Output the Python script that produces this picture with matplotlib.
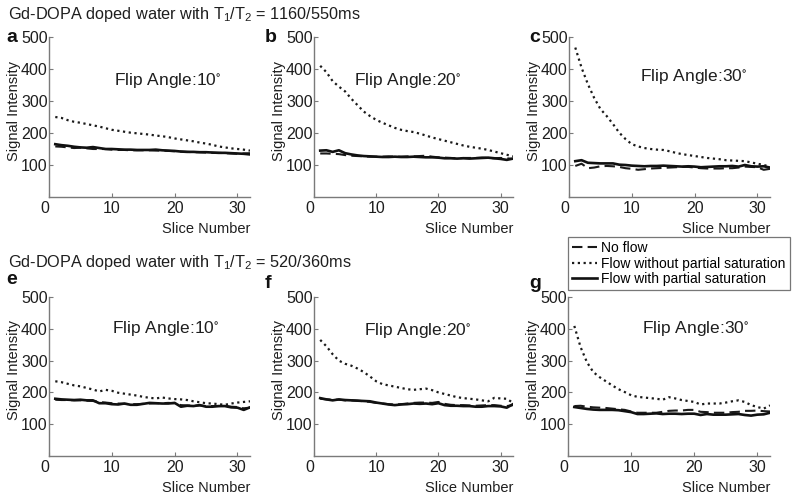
"""
Signal intensity vs slice number for Gd-DOPA doped water phantoms.
Two T1/T2 settings (rows) x three flip angles (columns).
"""
import matplotlib
matplotlib.use('Agg')
import matplotlib.pyplot as plt
from matplotlib.lines import Line2D

plt.rcParams['font.family'] = ['Liberation Sans', 'DejaVu Sans']
plt.rcParams['mathtext.default'] = 'regular'

# ---- data ---------------------------------------------------------------
slices = list(range(1, 33))

row_titles = ['Gd-DOPA doped water with T$_1$/T$_2$ = 1160/550ms',
              'Gd-DOPA doped water with T$_1$/T$_2$ = 520/360ms']
panel_letters = ['a', 'b', 'c', 'e', 'f', 'g']
flip_angles = [10, 20, 30, 10, 20, 30]
series_names = ['No flow', 'Flow without partial saturation', 'Flow with partial saturation']

# T1/T2 = 1160/550ms
a_noflow = [158, 157, 155, 153, 154, 152, 150, 150, 150, 148, 147, 147, 146, 146, 146, 146,
            145, 145, 144, 143, 142, 141, 140, 140, 139, 138, 138, 137, 136, 135, 136, 137]
a_nosat = [250, 247, 240, 235, 232, 228, 224, 220, 215, 210, 207, 204, 201, 199, 197, 195,
           192, 190, 187, 183, 180, 177, 174, 170, 167, 163, 158, 155, 152, 150, 148, 145]
a_sat = [165, 162, 160, 157, 155, 154, 156, 153, 150, 150, 149, 148, 148, 147, 147, 147,
         148, 146, 145, 144, 142, 141, 141, 140, 140, 139, 138, 138, 137, 136, 135, 133]

b_noflow = [136, 136, 135, 134, 131, 129, 128, 127, 126, 126, 126, 127, 126, 126, 127, 127,
            128, 129, 126, 124, 123, 122, 121, 122, 122, 122, 123, 122, 121, 122, 121, 119]
b_nosat = [410, 390, 362, 345, 330, 307, 287, 267, 253, 241, 232, 224, 216, 210, 206, 203,
           198, 192, 186, 181, 176, 171, 166, 161, 157, 154, 151, 147, 142, 137, 132, 127]
b_sat = [145, 146, 141, 146, 137, 133, 130, 128, 127, 126, 125, 125, 126, 125, 125, 126,
         125, 124, 124, 123, 121, 121, 120, 121, 120, 121, 122, 123, 121, 119, 116, 120]

c_noflow = [97, 104, 90, 92, 96, 97, 96, 94, 90, 88, 85, 87, 89, 90, 91, 92,
            93, 94, 94, 92, 90, 89, 89, 89, 90, 90, 92, 95, 94, 93, 85, 88]
c_nosat = [467, 404, 353, 310, 275, 253, 228, 201, 181, 165, 158, 153, 150, 148, 147, 143,
           138, 134, 131, 128, 125, 122, 120, 118, 115, 114, 113, 112, 108, 104, 100, 95]
c_sat = [112, 115, 107, 106, 105, 105, 105, 101, 100, 98, 97, 96, 97, 97, 98, 97,
         96, 95, 96, 95, 93, 94, 95, 96, 96, 97, 95, 100, 96, 95, 96, 92]

# T1/T2 = 520/360ms
e_noflow = [177, 176, 176, 175, 175, 174, 173, 170, 168, 166, 165, 164, 163, 163, 164, 165,
            166, 166, 167, 166, 160, 159, 158, 159, 157, 157, 157, 158, 155, 154, 150, 152]
e_nosat = [235, 232, 227, 222, 219, 214, 209, 203, 208, 205, 199, 196, 193, 190, 186, 183,
           181, 184, 181, 179, 178, 176, 172, 169, 166, 165, 163, 161, 165, 168, 170, 172]
e_sat = [180, 178, 177, 176, 177, 175, 175, 166, 166, 163, 162, 165, 161, 161, 164, 167,
         166, 165, 165, 167, 155, 158, 157, 160, 155, 155, 157, 157, 153, 152, 145, 153]

f_noflow = [180, 178, 177, 177, 175, 175, 174, 172, 170, 167, 165, 163, 162, 163, 165, 167,
            168, 168, 167, 170, 164, 161, 160, 160, 159, 158, 159, 160, 160, 158, 157, 160]
f_nosat = [365, 345, 320, 300, 290, 284, 275, 264, 250, 235, 226, 222, 218, 214, 210, 208,
           210, 212, 207, 200, 195, 190, 185, 182, 180, 178, 175, 172, 183, 181, 180, 167]
f_sat = [182, 178, 175, 178, 176, 175, 174, 173, 172, 168, 165, 162, 160, 162, 163, 165,
         164, 165, 163, 166, 160, 158, 158, 157, 157, 155, 155, 157, 157, 156, 152, 163]

g_noflow = [157, 158, 155, 153, 152, 151, 149, 147, 145, 140, 136, 136, 136, 136, 139, 142,
            143, 143, 145, 145, 139, 138, 136, 136, 136, 138, 139, 142, 142, 143, 141, 140]
g_nosat = [409, 342, 295, 264, 248, 235, 222, 210, 201, 191, 186, 184, 182, 180, 177, 185,
           181, 176, 173, 170, 162, 165, 165, 165, 168, 172, 175, 170, 160, 154, 149, 159]
g_sat = [154, 151, 148, 146, 145, 145, 145, 144, 141, 138, 132, 132, 133, 134, 132, 133,
         133, 132, 133, 133, 129, 132, 130, 130, 130, 131, 132, 129, 127, 130, 131, 136]

panels = [
    (a_noflow, a_nosat, a_sat),
    (b_noflow, b_nosat, b_sat),
    (c_noflow, c_nosat, c_sat),
    (e_noflow, e_nosat, e_sat),
    (f_noflow, f_nosat, f_sat),
    (g_noflow, g_nosat, g_sat),
]

# ---- styling -------------------------------------------------------------
W, H = 800, 495
styles = [
    dict(color='#1a1a1a', lw=1.5, ls=(0, (5, 2.5))),   # no flow
    dict(color='#1a1a1a', lw=1.6, ls=(0, (1, 1.6))),   # flow w/o saturation
    dict(color='#111111', lw=1.9, ls='-'),             # flow with saturation
]
spine_col = '#7a7a7a'
txt_col = '#1e1e1e'

# axes boxes in pixels: left, top, right, bottom
boxes = [
    (49, 37, 250, 197), (314, 37, 513, 197), (569, 37, 770, 197),
    (49, 297, 250, 456), (314, 297, 513, 456), (568, 297, 770, 456),
]
# flip-angle label positions (axes fraction)
fa_pos = [(0.59, 0.73), (0.47, 0.73), (0.62, 0.75),
          (0.58, 0.80), (0.52, 0.79), (0.63, 0.80)]
letter_px = [(6, 37), (265, 37), (529, 37), (6, 280), (265, 283), (529, 283)]

fig = plt.figure(figsize=(W / 100, H / 100), dpi=100)

for i, (box, data) in enumerate(zip(boxes, panels)):
    l, t, r, b = box
    ax = fig.add_axes([l / W, 1 - b / H, (r - l) / W, (b - t) / H])
    for ys, st in zip(data, styles):
        ax.plot(slices, ys, **st)
    ax.set_xlim(0, 32)
    ax.set_ylim(0, 500)
    ax.set_xticks([0, 10, 20, 30])
    ax.set_yticks([100, 200, 300, 400, 500])
    for s in ['top', 'right']:
        ax.spines[s].set_visible(False)
    for s in ['left', 'bottom']:
        ax.spines[s].set_color(spine_col)
        ax.spines[s].set_linewidth(1.0)
    ax.tick_params(direction='in', length=3, width=0.8, color=spine_col,
                   labelsize=11.5, pad=1.0, labelcolor=txt_col)
    ax.tick_params(axis='x', pad=3)
    ax.get_xticklabels()[0].set_horizontalalignment('right')

    ax.text(fa_pos[i][0], fa_pos[i][1], 'Flip Angle:%d$^{\\circ}$' % flip_angles[i],
            transform=ax.transAxes, ha='center', va='center', fontsize=12.5, color=txt_col)
    ax.text(1.0, -0.2, 'Slice Number', transform=ax.transAxes,
            ha='right', va='center', fontsize=10.5, color=txt_col)
    ax.text(-0.175, 0.54, 'Signal Intensity', transform=ax.transAxes, rotation=90,
            ha='center', va='center', fontsize=10.5, color=txt_col)

    lx, ly = letter_px[i]
    fig.text(lx / W, 1 - ly / H, panel_letters[i], ha='left', va='center',
             fontsize=14, fontweight='bold', color='#111111')

# row titles
fig.text(8 / W, 1 - 14 / H, row_titles[0], ha='left', va='center', fontsize=11.7, color=txt_col)
fig.text(8 / W, 1 - 263 / H, row_titles[1], ha='left', va='center', fontsize=11.7, color=txt_col)

# legend
handles = [Line2D([], [], **st) for st in styles]
leg = fig.legend(handles, series_names, loc='upper left',
                 bbox_to_anchor=(568 / W, 1 - 237 / H), fontsize=10,
                 frameon=True, fancybox=False, edgecolor='#555555',
                 handlelength=1.8, handletextpad=0.3, borderpad=0.3,
                 labelspacing=0.1, borderaxespad=0)
leg.get_frame().set_linewidth(0.9)

fig.savefig('out.png', dpi=100)
